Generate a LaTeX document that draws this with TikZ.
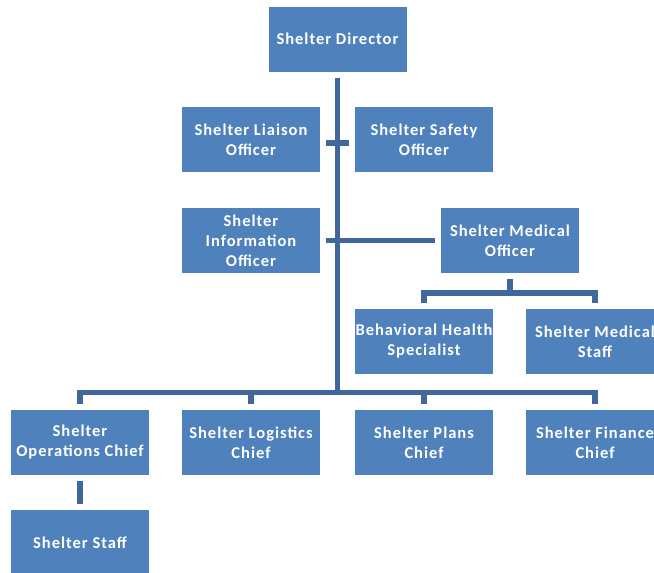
\documentclass[tikz,border=0pt]{standalone}
\usepackage{fontspec}
\setmainfont{Carlito}
\definecolor{boxblue}{RGB}{79,129,189}
\definecolor{lineblue}{RGB}{64,104,156}
\begin{document}
\begin{tikzpicture}[x=1pt,y=-1pt,
  orgbox/.style={draw=none,fill=boxblue,minimum width=138pt,minimum height=65pt,
    inner sep=0pt,align=center,text=white,
    font=\fontsize{16.5}{20}\selectfont\bfseries\addfontfeature{LetterSpace=6}},
  conn/.style={draw=lineblue,line width=5.5pt},
  gap/.style={shorten <=6pt,shorten >=6pt}]
\useasboundingbox (0,0) rectangle (654,573);
\clip (0,0) rectangle (654,573);
\fill[white] (0,0) rectangle (654,573);
% nodes
\node[orgbox] (director) at (337.5,39) {Shelter Director};
\node[orgbox] (liaison) at (251,139.5) {Shelter Liaison\\Officer};
\node[orgbox] (safety) at (424,139.5) {Shelter Safety\\Officer};
\node[orgbox] (info) at (251,240.5) {Shelter\\Information\\Officer};
\node[orgbox] (medical) at (510,240.5) {Shelter Medical\\Officer};
\node[orgbox] (behav) at (424,341.5) {Behavioral Health\\Specialist};
\node[orgbox] (medstaff) at (595,341.5) {Shelter Medical\\Staff};
\node[orgbox] (ops) at (80,442.5) {Shelter\\Operations Chief};
\node[orgbox] (logistics) at (251,442.5) {Shelter Logistics\\Chief};
\node[orgbox] (plans) at (424,442.5) {Shelter Plans\\Chief};
\node[orgbox] (finance) at (595,442.5) {Shelter Finance\\Chief};
\node[orgbox] (staff) at (80,542.5) {Shelter Staff};
% connectors
\foreach \c in {ops,logistics,plans,finance}
  \draw[conn,gap] (director.south) -- ++(0,321) -| (\c.north);
\draw[conn,gap] ([yshift=-3.5pt]liaison.east) -- ([yshift=-3.5pt]safety.west);
\draw[conn,gap] (info.east) -- (medical.west);
\draw[conn,gap] (medical.south) -- ++(0,20) -| (behav.north);
\draw[conn,gap] (medical.south) -- ++(0,20) -| (medstaff.north);
\draw[conn,gap] (ops.south) -- (staff.north);
\end{tikzpicture}
\end{document}
